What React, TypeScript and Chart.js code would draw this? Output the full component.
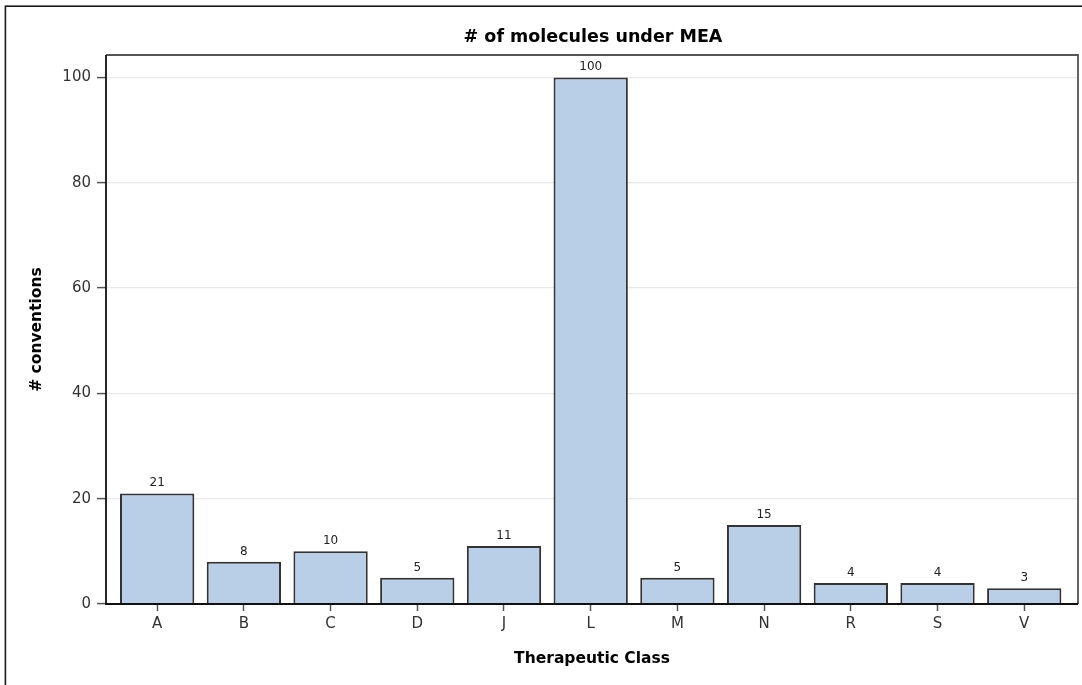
import { useEffect, useRef } from "react";
import { Chart, registerables } from "chart.js";

Chart.register(...registerables);

const categories = ["A", "B", "C", "D", "J", "L", "M", "N", "R", "S", "V"];
const counts = [21, 8, 10, 5, 11, 100, 5, 15, 4, 4, 3];
const yTickValues = [0, 20, 40, 60, 80, 100];
const chartTitle = "# of molecules under MEA";
const xAxisTitle = "Therapeutic Class";
const yAxisTitle = "# conventions";

const FONT = '"DejaVu Sans", "Liberation Sans", sans-serif';

export default function App() {
  const ref = useRef<HTMLCanvasElement>(null);

  useEffect(() => {
    document.body.style.margin = "0";
    const canvas = ref.current;
    if (!canvas) return;

    const decor = {
      id: "decor",
      beforeDraw(chart: any) {
        const ctx = chart.ctx;
        ctx.save();
        ctx.fillStyle = "#ffffff";
        ctx.fillRect(0, 0, chart.width, chart.height);
        ctx.strokeStyle = "#1a1a1a";
        ctx.lineWidth = 1.6;
        ctx.strokeRect(5.4, 6.2, chart.width + 40, chart.height + 40);
        ctx.restore();
      },
      afterDatasetsDraw(chart: any) {
        const ctx = chart.ctx;
        const a = chart.chartArea;
        ctx.save();
        // value labels
        ctx.fillStyle = "#222";
        ctx.font = `12px ${FONT}`;
        ctx.textAlign = "center";
        ctx.textBaseline = "alphabetic";
        const meta = chart.getDatasetMeta(0);
        meta.data.forEach((bar: any, i: number) => {
          ctx.fillText(String(counts[i]), bar.x, bar.y - 7);
        });
        // frame
        ctx.lineWidth = 1.8;
        ctx.strokeStyle = "#555";
        ctx.beginPath();
        ctx.moveTo(a.left, a.top);
        ctx.lineTo(a.right, a.top);
        ctx.lineTo(a.right, a.bottom);
        ctx.stroke();
        ctx.strokeStyle = "#111";
        ctx.beginPath();
        ctx.moveTo(a.left, a.top);
        ctx.lineTo(a.left, a.bottom);
        ctx.lineTo(a.right, a.bottom);
        ctx.stroke();
        ctx.restore();
      },
      afterDraw(chart: any) {
        const ctx = chart.ctx;
        const a = chart.chartArea;
        const cx = (a.left + a.right) / 2;
        ctx.save();
        ctx.fillStyle = "#000";
        ctx.textAlign = "center";
        ctx.textBaseline = "alphabetic";
        ctx.font = `bold 17.5px ${FONT}`;
        ctx.fillText(chartTitle, cx + 1, 42);
        ctx.font = `bold 15.5px ${FONT}`;
        ctx.fillText(xAxisTitle, cx, 663);
        ctx.translate(41, (a.top + a.bottom) / 2);
        ctx.rotate(-Math.PI / 2);
        ctx.fillText(yAxisTitle, 0, 0);
        ctx.restore();
      },
    };

    const chart = new Chart(canvas, {
      type: "bar",
      data: {
        datasets: [
          {
            data: counts.map((v, i) => ({ x: i, y: v })),
            backgroundColor: "#B9CFE7",
            borderColor: "#333333",
            borderWidth: 2,
            barPercentage: 0.857,
            categoryPercentage: 1,
          },
        ],
      },
      options: {
        animation: false,
        responsive: false,
        devicePixelRatio: 1,
        layout: { padding: { top: 55, right: 4, left: 0, bottom: 41 } },
        plugins: {
          legend: { display: false },
          tooltip: { enabled: false },
          title: { display: false },
        },
        scales: {
          x: {
            type: "linear",
            min: -0.59,
            max: 10.62,
            offset: false,
            border: { display: false },
            grid: {
              offset: false,
              drawOnChartArea: false,
              drawTicks: true,
              tickLength: 7,
              tickColor: "#555",
              tickWidth: 1.5,
            },
            afterBuildTicks: (scale: any) => {
              scale.ticks = categories.map((_, i) => ({ value: i }));
            },
            afterFit: (scale: any) => {
              scale.height = 40;
            },
            ticks: {
              autoSkip: false,
              maxRotation: 0,
              padding: 4,
              color: "#333",
              font: { family: FONT, size: 15 },
              callback: (v: any) => categories[Math.round(Number(v))] ?? "",
            },
          },
          y: {
            type: "linear",
            min: 0,
            max: 104.25,
            border: { display: false },
            grid: {
              color: "#e9e9e9",
              lineWidth: 1.2,
              drawTicks: true,
              tickLength: 9,
              tickColor: "#555",
              tickWidth: 1.5,
            },
            afterBuildTicks: (scale: any) => {
              scale.ticks = yTickValues.map((v) => ({ value: v }));
            },
            afterFit: (scale: any) => {
              scale.width = 106;
            },
            ticks: {
              padding: 6,
              color: "#333",
              font: { family: FONT, size: 15 },
            },
          },
        },
      },
      plugins: [decor],
    });

    return () => chart.destroy();
  }, []);

  return (
    <canvas
      ref={ref}
      width={1082}
      height={685}
      style={{ display: "block", width: "1082px", height: "685px" }}
    />
  );
}
